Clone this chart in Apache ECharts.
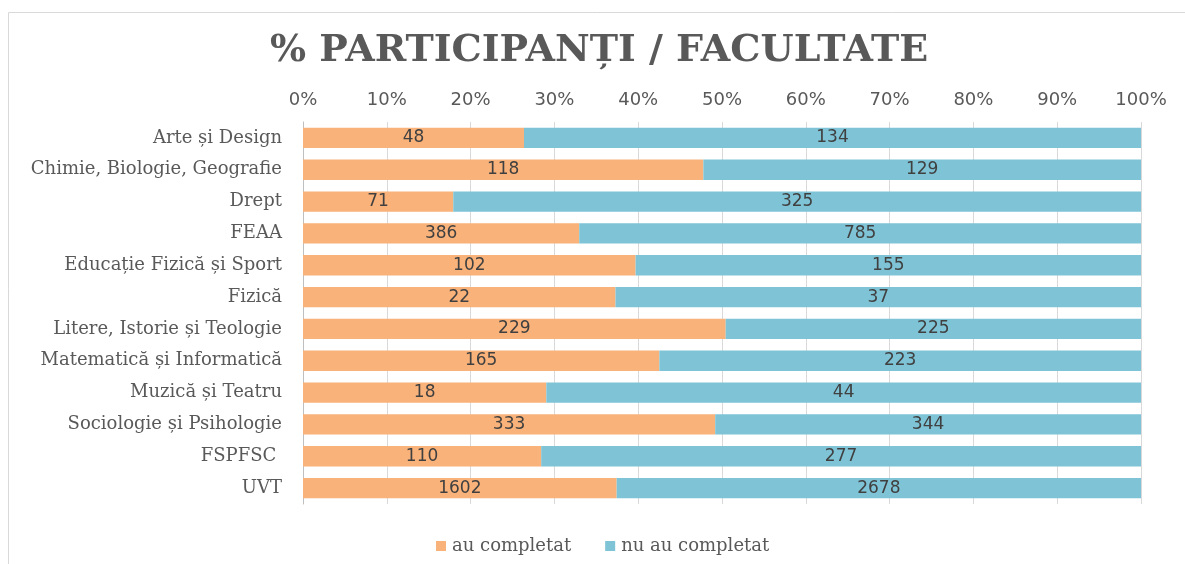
<!DOCTYPE html>
<html><head><meta charset="utf-8">
<script src="https://cdn.jsdelivr.net/npm/echarts@6/dist/echarts.min.js"></script>
<style>html,body{margin:0;padding:0;background:#fff}#c{width:1185px;height:564px}</style>
</head><body><div id="c"></div>
<script>
const categories = ["Arte și Design","Chimie, Biologie, Geografie","Drept","FEAA","Educație Fizică și Sport","Fizică","Litere, Istorie și Teologie","Matematică și Informatică","Muzică și Teatru","Sociologie și Psihologie","FSPFSC ","UVT"];
const auCompletat = [48,118,71,386,102,22,229,165,18,333,110,1602];
const nuAuCompletat = [134,129,325,785,155,37,225,223,44,344,277,2678];
const seriesNames = ["au completat","nu au completat"];
const titleText = "% PARTICIPANȚI / FACULTATE";

const serif = "DejaVu Serif";
const sans = "DejaVu Sans";
const mk = (arr) => arr.map((v, i) => ({ value: v / (auCompletat[i] + nuAuCompletat[i]) * 100, raw: v }));
const lbl = { show: true, position: 'inside', formatter: p => p.data.raw, fontFamily: sans, fontSize: 17, color: '#404040' };

const chart = echarts.init(document.getElementById('c'));
chart.setOption({
  animation: false,
  backgroundColor: '#fff',
  graphic: [{ type: 'rect', shape: { x: 8.5, y: 12.5, width: 1300, height: 700 }, style: { fill: 'none', stroke: '#d9d9d9', lineWidth: 1 }, silent: true }],
  title: { text: titleText, left: 270, top: 32, padding: 0, textStyle: { fontFamily: serif, fontWeight: 'bold', fontSize: 38, color: '#595959' } },
  grid: { left: 303, right: 44, top: 122, bottom: 60, containLabel: false },
  legend: { bottom: 4, left: 431, itemWidth: 10, itemHeight: 10, itemGap: 34, icon: 'rect',
    textStyle: { fontFamily: serif, fontSize: 18, color: '#595959', padding: [0, 0, 0, 1] }, data: seriesNames },
  xAxis: { type: 'value', position: 'top', min: 0, max: 100, interval: 10,
    axisLabel: { formatter: '{value}%', fontFamily: sans, fontSize: 18, color: '#595959', margin: 13 },
    axisLine: { show: false }, axisTick: { show: false },
    splitLine: { lineStyle: { color: '#d9d9d9' } } },
  yAxis: { type: 'category', data: categories, inverse: true,
    axisLine: { show: true, lineStyle: { color: '#bfbfbf' } }, axisTick: { show: false },
    axisLabel: { fontFamily: serif, fontSize: 18, color: '#595959', margin: 21 } },
  series: [
    { name: seriesNames[0], type: 'bar', stack: 's', barCategoryGap: '36%', data: mk(auCompletat),
      itemStyle: { color: '#F8B27A' }, label: lbl },
    { name: seriesNames[1], type: 'bar', stack: 's', barCategoryGap: '36%', data: mk(nuAuCompletat),
      itemStyle: { color: '#7EC3D6' }, label: lbl }
  ]
});
</script></body></html>
